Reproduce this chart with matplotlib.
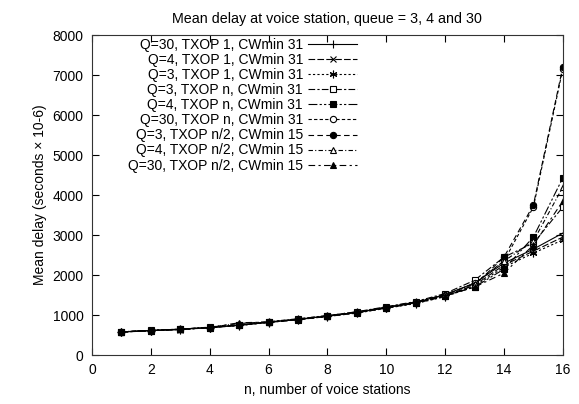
import matplotlib
matplotlib.use("Agg")
import matplotlib.pyplot as plt

plt.rcParams['font.family'] = ['Liberation Sans', 'DejaVu Sans']
plt.rcParams['font.size'] = 10

n = list(range(1, 17))

labels = [
    "Q=30, TXOP 1, CWmin 31",
    "Q=4, TXOP 1, CWmin 31",
    "Q=3, TXOP 1, CWmin 31",
    "Q=3, TXOP n, CWmin 31",
    "Q=4, TXOP n, CWmin 31",
    "Q=30, TXOP n, CWmin 31",
    "Q=3, TXOP n/2, CWmin 15",
    "Q=4, TXOP n/2, CWmin 15",
    "Q=30, TXOP n/2, CWmin 15",
]

delays = [
    [580, 615, 645, 690, 750, 825, 895, 975, 1070, 1190, 1320, 1510, 1800, 2300, 2650, 3050],
    [575, 610, 640, 685, 745, 820, 890, 970, 1060, 1180, 1300, 1480, 1750, 2250, 2600, 2950],
    [575, 610, 640, 685, 740, 815, 885, 965, 1050, 1170, 1290, 1460, 1720, 2200, 2550, 2880],
    [580, 620, 650, 695, 760, 830, 900, 985, 1085, 1210, 1340, 1540, 1870, 2450, 2800, 3700],
    [580, 615, 645, 690, 745, 820, 890, 970, 1065, 1185, 1310, 1490, 1700, 2150, 2950, 4430],
    [580, 615, 645, 690, 750, 825, 895, 975, 1070, 1190, 1320, 1500, 1800, 2350, 3700, 7150],
    [580, 615, 645, 690, 745, 820, 890, 970, 1060, 1180, 1300, 1470, 1750, 2450, 3750, 7200],
    [585, 620, 650, 700, 790, 835, 910, 990, 1080, 1200, 1330, 1520, 1780, 2350, 2850, 4200],
    [580, 615, 645, 690, 810, 825, 895, 975, 1070, 1190, 1310, 1480, 1700, 2050, 2750, 3850],
]

styles = [
    dict(ls='-', marker='+', mfc='black', ms=6),
    dict(ls=(0, (6, 2)), marker='x', mfc='black', ms=4.5),
    dict(ls=(0, (2, 2)), marker=(6, 2, 0), mfc='black', ms=5.5),
    dict(ls=(0, (6, 2, 2, 2)), marker='s', mfc='white', ms=4.5),
    dict(ls=(0, (8, 2, 2, 2, 2, 2)), marker='s', mfc='black', ms=4.5),
    dict(ls=(0, (3, 2)), marker='o', mfc='white', ms=4.5),
    dict(ls=(0, (5, 3)), marker='o', mfc='black', ms=4.5),
    dict(ls=(0, (4, 2, 1, 2)), marker='^', mfc='white', ms=4.5),
    dict(ls=(0, (6, 3, 2, 3)), marker='^', mfc='black', ms=4.5),
]

fig = plt.figure(figsize=(5.79, 4.04), dpi=100)
ax = fig.add_axes([0.159, 0.121, 0.813, 0.792])

for d, lab, st in zip(delays, labels, styles):
    ax.plot(n, d, color='black', lw=0.8, mec='black', mew=0.8, label=lab,
            linestyle=st['ls'], marker=st['marker'], mfc=st['mfc'], ms=st['ms'])

ax.set_xlim(0, 16)
ax.set_ylim(0, 8000)
ax.set_xticks(range(0, 17, 2))
ax.set_yticks(range(0, 8001, 1000))
ax.tick_params(direction='in', top=True, right=True, length=5, width=0.8, pad=6)
for sp in ax.spines.values():
    sp.set_linewidth(0.8)
    sp.set_color('#333333')

ax.set_title("Mean delay at voice station, queue = 3, 4 and 30", pad=9, fontsize=10.3)
ax.set_xlabel("n, number of voice stations", labelpad=4)
ax.set_ylabel("Mean delay (seconds \u00d7 10-6)")

ax.legend(loc='upper right', bbox_to_anchor=(0.563, 0.992), frameon=False,
          markerfirst=False, handlelength=3.5, handletextpad=0.4,
          labelspacing=0.08, borderpad=0, borderaxespad=0)

fig.savefig("out.png", dpi=100)
